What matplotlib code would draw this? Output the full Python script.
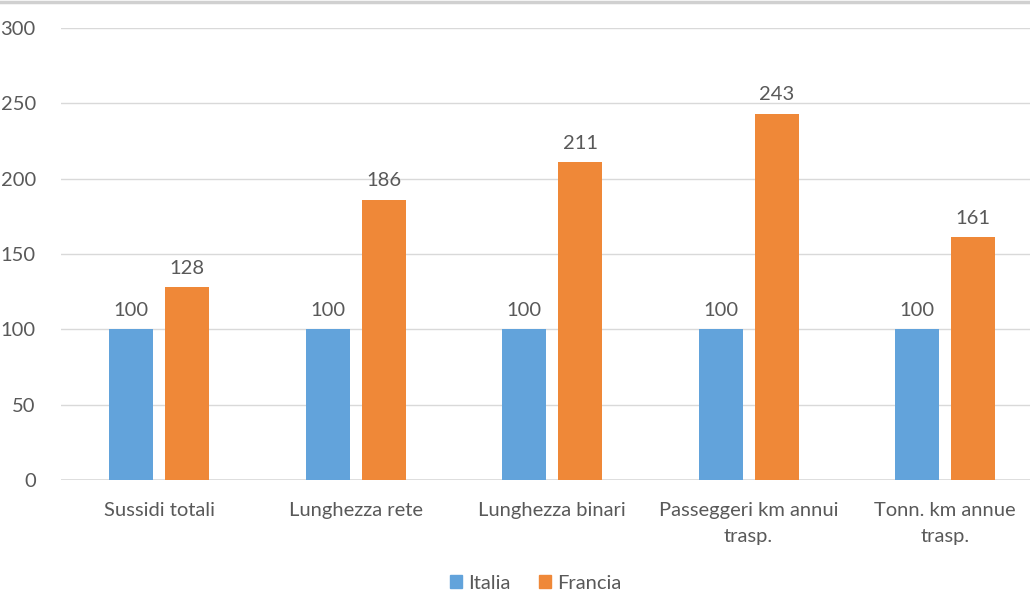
import numpy as np
import matplotlib.pyplot as plt
from matplotlib.lines import Line2D

categories = ["Sussidi totali", "Lunghezza rete", "Lunghezza binari",
              "Passeggeri km annui\ntrasp.", "Tonn. km annue\ntrasp."]
italia = [100, 100, 100, 100, 100]
francia = [128, 186, 211, 243, 161]

BLUE = "#62A3DB"
ORANGE = "#EF8838"
TEXT = "#595959"
GRID = "#D9D9D9"
FS = 14.5

plt.rcParams["font.family"] = ["Lato", "DejaVu Sans"]

fig = plt.figure(figsize=(10.3, 5.91), dpi=100)
# plot area runs a little past the right edge of the figure
ax = fig.add_axes([0.059, 0.188, 0.954, 0.7646])

x = np.arange(len(categories))
w = 0.224
off = 0.1425
b1 = ax.bar(x - off, italia, w, color=BLUE, label="Italia", zorder=3)
b2 = ax.bar(x + off, francia, w, color=ORANGE, label="Francia", zorder=3)

for bars, vals in ((b1, italia), (b2, francia)):
    for rect, v in zip(bars, vals):
        ax.text(rect.get_x() + rect.get_width() / 2, v + 7, str(v),
                ha="center", va="bottom", fontsize=FS, color=TEXT)

ax.set_xlim(-0.5, len(categories) - 0.5)
ax.set_ylim(0, 300)
ax.set_yticks(range(0, 301, 50))
ax.set_xticks(x)
ax.set_xticklabels(categories, fontsize=FS, color=TEXT, linespacing=1.6)
ax.tick_params(axis="y", labelsize=FS, labelcolor=TEXT, length=0, pad=18)
ax.tick_params(axis="x", length=0, pad=16)
ax.grid(axis="y", color=GRID, linewidth=1, zorder=0)
for s in ax.spines.values():
    s.set_visible(False)
ax.axhline(0, color=GRID, linewidth=1.2, zorder=2)

# thin border along the top edge
fig.add_artist(Line2D([0, 1], [0.997, 0.997], transform=fig.transFigure,
                      color="#D0D0D0", linewidth=2.5))

handles = [plt.Rectangle((0, 0), 1, 1, color=BLUE),
           plt.Rectangle((0, 0), 1, 1, color=ORANGE)]
fig.legend(handles, ["Italia", "Francia"], loc="center", ncol=2,
           bbox_to_anchor=(0.52, 0.013), frameon=False, fontsize=FS,
           labelcolor=TEXT, handlelength=0.6, handleheight=0.6,
           handletextpad=0.3, columnspacing=1.4)

fig.savefig("out.png", dpi=100)
